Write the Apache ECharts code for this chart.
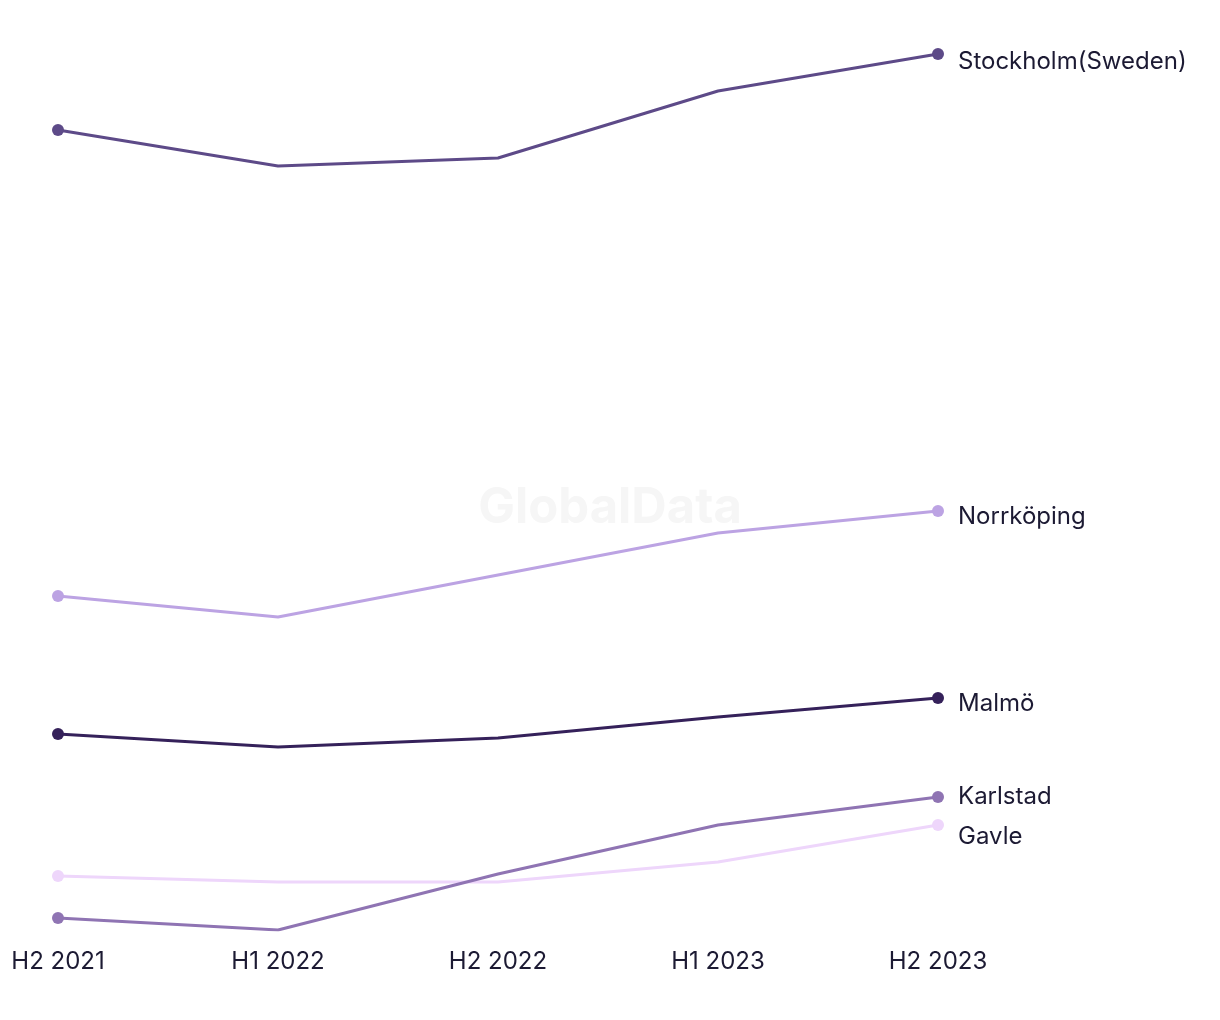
<!DOCTYPE html>
<html><head><meta charset="utf-8">
<script src="https://cdn.jsdelivr.net/npm/echarts@6/dist/echarts.min.js"></script>
<style>html,body{margin:0;padding:0;background:#fff}#c{width:1220px;height:1020px}</style>
</head><body><div id="c"></div>
<script>
const categories = ['H2 2021','H1 2022','H2 2022','H1 2023','H2 2023'];
const seriesNames = ['Stockholm(Sweden)','Norrköping','Malmö','Karlstad','Gavle'];
const stockholm = [870, 834, 842, 909, 946];
const norrkoping = [404, 383, 425, 467, 489];
const malmo = [266, 253, 262, 283, 302];
const karlstad = [82, 70, 126, 175, 203];
const gavle = [124, 118, 118, 138, 175];
const colors = ['#5d4a88','#bca3e3','#35215a','#8f74b3','#eed6fb'];
const values = [stockholm, norrkoping, malmo, karlstad, gavle];
const labelOffsets = [[0,8],[0,6],[0,6],[0,0],[0,12]];

const chart = echarts.init(document.getElementById('c'));
const FONT = 'Inter';
chart.setOption({
  animation:false,
  backgroundColor:'#fff',
  graphic:[{type:'text', left:'center', top:484, style:{text:'GlobalData', font:'bold 49px '+FONT, fill:'#f6f6f6'}, z:-1, silent:true}],
  grid:{left:58, right:282, top:54, bottom:90, containLabel:false},
  xAxis:{type:'category', data:categories, boundaryGap:false,
    axisLine:{show:false}, axisTick:{show:false}, splitLine:{show:false},
    axisLabel:{color:'#1c1a33', fontSize:24, fontFamily:FONT, margin:20}},
  yAxis:{type:'value', min:70, max:946, show:false, splitLine:{show:false}},
  series: seriesNames.map((n,i)=>({
    name:n, type:'line', data:values[i],
    lineStyle:{width:3, color:colors[i]}, itemStyle:{color:colors[i]},
    symbol:'circle', showSymbol:true,
    symbolSize:(v,p)=> (p.dataIndex===0||p.dataIndex===categories.length-1)?12:0,
    endLabel:{show:true, formatter:'{a}', color:'#1c1a33', fontSize:24, fontFamily:FONT, distance:20, offset:labelOffsets[i]},
    z: 10-i
  }))
});
</script></body></html>
